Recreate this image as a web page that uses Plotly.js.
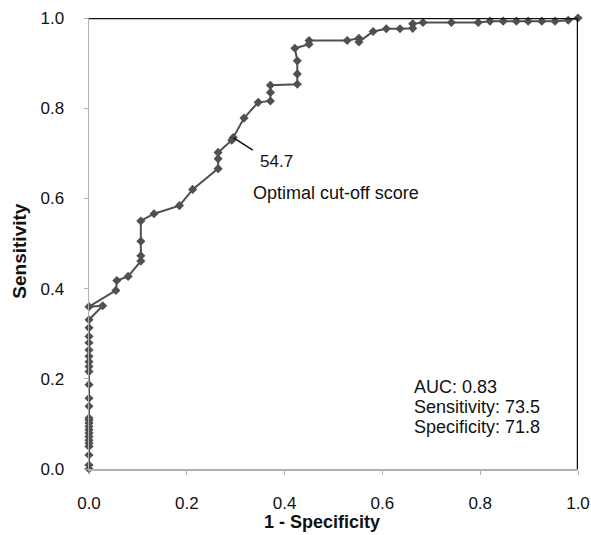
<!DOCTYPE html>
<html>
<head>
<meta charset="utf-8">
<script src="https://cdn.plot.ly/plotly-3.0.1.min.js"></script>
<style>html,body{margin:0;padding:0;background:#fff;}#chart{width:591px;height:535px;}</style>
</head>
<body>
<div id="chart"></div>
<script>
// ROC curve points (1 - specificity, sensitivity)
var fpr = [0,0,0,0,0,0,0,0,0,0,0,0,0,0,0,0,0,0,0,0,0,0,0,0,0,
  0.028,0,0.055,0.057,0.080,0.106,0.106,0.106,0.106,0.133,0.185,0.212,
  0.264,0.264,0.264,0.292,0.295,0.317,0.346,0.371,0.371,0.371,
  0.426,0.426,0.426,0.421,0.450,0.450,0.528,0.552,0.552,0.581,0.608,0.636,
  0.662,0.662,0.683,0.741,0.796,0.820,0.847,0.874,0.898,0.926,0.953,0.980,1.0];
var tpr = [0.0,0.009,0.031,0.050,0.057,0.064,0.072,0.080,0.087,0.094,0.102,0.108,0.113,0.139,0.157,0.187,0.216,0.227,0.238,0.250,0.264,0.280,0.294,0.313,0.331,
  0.362,0.360,0.396,0.418,0.427,0.461,0.473,0.505,0.550,0.566,0.584,0.620,
  0.666,0.688,0.702,0.729,0.735,0.778,0.813,0.816,0.835,0.851,
  0.853,0.876,0.905,0.933,0.942,0.950,0.950,0.955,0.947,0.970,0.976,0.976,
  0.977,0.987,0.990,0.990,0.990,0.993,0.993,0.993,0.993,0.993,0.993,0.995,1.0];
// Perfect-classifier reference line
var refX = [0, 1, 1];
var refY = [1, 1, 0];
var tickVals = [0, 0.2, 0.4, 0.6, 0.8, 1.0];
var tickText = ['0.0', '0.2', '0.4', '0.6', '0.8', '1.0'];
var optimalX = 0.295, optimalY = 0.735;
var statsLines = ['AUC: 0.83', 'Sensitivity: 73.5', 'Specificity: 71.8'];
var xTitle = '1 - Specificity', yTitle = 'Sensitivity';

var traces = [
  {x: fpr, y: tpr, mode: 'lines+markers', line: {color: '#505050', width: 2},
   marker: {symbol: 'diamond', size: 7, color: '#505050'}, cliponaxis: false},
  {x: refX, y: refY, mode: 'lines', line: {color: '#111', width: 2.5}, hoverinfo: 'skip', cliponaxis: false}
];

var ff = 'Liberation Sans, Arial, sans-serif';
var annotations = [
  {x: 0.345, y: 0.682, xref: 'x', yref: 'y', text: '54.7', showarrow: false,
   xanchor: 'left', yanchor: 'middle', font: {size: 17, color: '#111'}},
  {x: 0.331, y: 0.613, xref: 'x', yref: 'y', text: 'Optimal cut-off score', showarrow: false,
   xanchor: 'left', yanchor: 'middle', font: {size: 18, color: '#111'}},
  {x: 0.4765, y: -0.117, xref: 'paper', yref: 'paper', text: '<b>' + xTitle + '</b>', showarrow: false,
   xanchor: 'center', yanchor: 'middle', font: {size: 18, color: '#111'}},
  {x: -0.141, y: 0.482, xref: 'paper', yref: 'paper', text: '<b>' + yTitle + '</b>', showarrow: false,
   textangle: -90, xanchor: 'center', yanchor: 'middle', font: {size: 19, color: '#111'}}
];
var statsY = [0.182, 0.138, 0.094];
statsLines.forEach(function (t, i) {
  annotations.push({x: 0.661, y: statsY[i], xref: 'x', yref: 'y', text: t, showarrow: false,
    xanchor: 'left', yanchor: 'middle', font: {size: 18, color: '#111'}});
});

var layout = {
  width: 591, height: 535,
  margin: {l: 89, r: 13, t: 18, b: 66},
  paper_bgcolor: '#fff', plot_bgcolor: '#fff',
  showlegend: false,
  font: {family: ff, size: 17, color: '#111'},
  xaxis: {
    range: [0, 1], tickvals: tickVals, ticktext: tickText,
    showgrid: false, zeroline: false, showline: true, linecolor: '#b0b0b0', linewidth: 1.5,
    ticks: 'outside', ticklen: 4, tickcolor: '#b0b0b0', tickfont: {size: 17, color: '#111'},
    ticklabelstandoff: 14
  },
  yaxis: {
    range: [0, 1], tickvals: tickVals, ticktext: tickText,
    showgrid: false, zeroline: false, showline: true, linecolor: '#b0b0b0', linewidth: 1.5,
    ticks: 'outside', ticklen: 4, tickcolor: '#b0b0b0', tickfont: {size: 17, color: '#111'},
    ticklabelstandoff: 16
  },
  shapes: [
    {type: 'line', xref: 'x', yref: 'y', x0: optimalX, y0: optimalY, x1: optimalX + 0.04, y1: optimalY - 0.028,
     line: {color: '#111', width: 1.5}}
  ],
  annotations: annotations
};
Plotly.newPlot('chart', traces, layout, {displayModeBar: false, staticPlot: true});
</script>
</body>
</html>
